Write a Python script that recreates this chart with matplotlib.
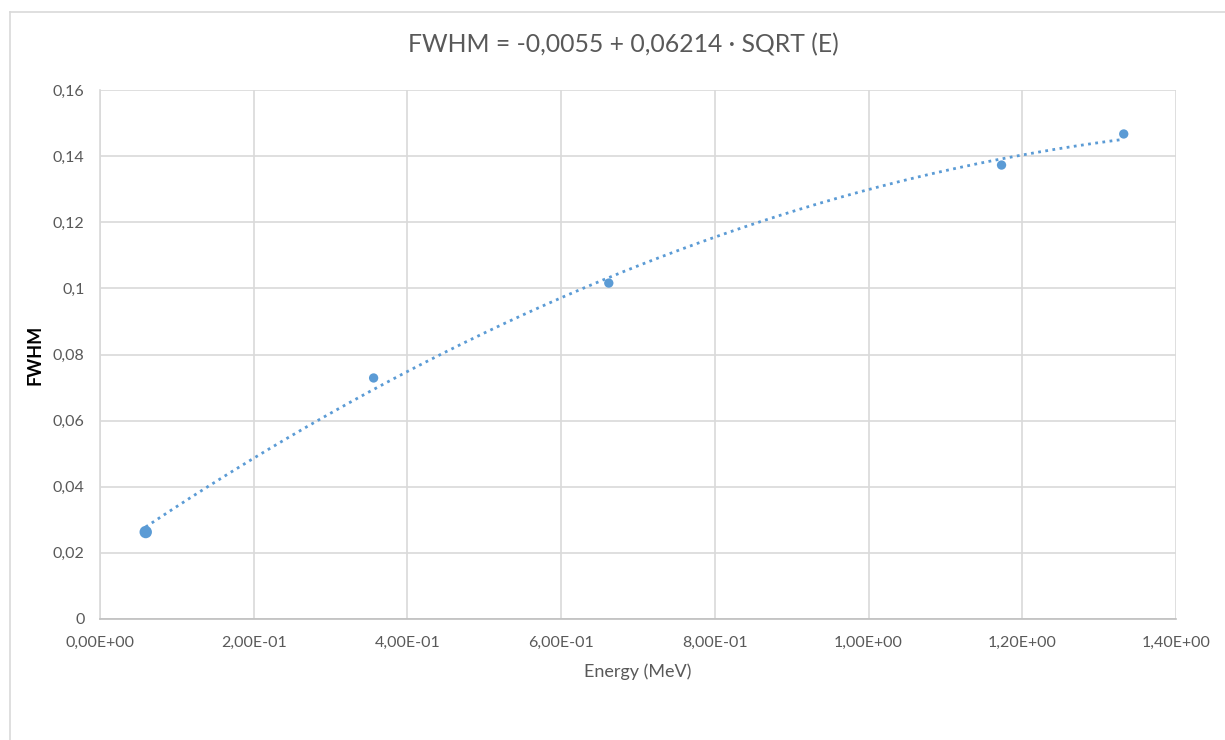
import numpy as np
import matplotlib
matplotlib.use("Agg")
import matplotlib.pyplot as plt
from matplotlib.ticker import FuncFormatter, MultipleLocator

energy = [0.0595, 0.356, 0.662, 1.173, 1.332]
fwhm = [0.0263, 0.0729, 0.1016, 0.1373, 0.1467]
title = "FWHM = -0,0055 + 0,06214 · SQRT (E)"

plt.rcParams['font.family'] = ['Lato', 'DejaVu Sans']

fig = plt.figure(figsize=(12.25, 7.4), dpi=100)
ax = fig.add_axes([100/1225, 1-619/740, 1076/1225, 529/740])

# chart border
fig.add_artist(plt.Line2D([10/1225, 1.0], [1-12/740, 1-12/740], color='#d9d9d9', lw=1.2, transform=fig.transFigure))
fig.add_artist(plt.Line2D([10/1225, 10/1225], [0, 1-12/740], color='#d9d9d9', lw=1.2, transform=fig.transFigure))

blue = '#5b9bd5'
# polynomial trendline (order 2) fitted to data
coef = np.polyfit(energy, fwhm, 2)
xs = np.linspace(min(energy), max(energy), 200)
ax.plot(xs, np.polyval(coef, xs), linestyle=(0, (1, 1.6)), color=blue, lw=2.0, zorder=2)
ax.scatter(energy, fwhm, s=[80, 45, 45, 45, 45], color=blue, zorder=3, linewidths=0)

ax.set_xlim(0, 1.4)
ax.set_ylim(0, 0.16)
ax.xaxis.set_major_locator(MultipleLocator(0.2))
ax.yaxis.set_major_locator(MultipleLocator(0.02))

def yfmt(v, p):
    s = ('%.2f' % v).rstrip('0').rstrip('.')
    return s.replace('.', ',')
def xfmt(v, p):
    return ('%.2E' % v).replace('.', ',')
ax.yaxis.set_major_formatter(FuncFormatter(yfmt))
ax.xaxis.set_major_formatter(FuncFormatter(xfmt))

ax.grid(True, color='#d9d9d9', lw=1.2)
ax.set_axisbelow(True)
for s in ['top', 'right']:
    ax.spines[s].set_visible(False)
ax.spines['left'].set_color('#d9d9d9')
ax.spines['bottom'].set_color('#bfbfbf')
ax.spines['left'].set_linewidth(1.2)
ax.spines['bottom'].set_linewidth(1.2)
ax.tick_params(axis='x', length=0, labelsize=11.5, colors='#595959', pad=12)
ax.tick_params(axis='y', length=0, labelsize=11.5, colors='#595959', pad=11)

ax.set_xlabel('Energy (MeV)', fontsize=13, color='#595959', labelpad=10)
ax.set_ylabel('FWHM', fontsize=13, color='#000000', fontweight='bold', labelpad=7)
fig.text(623/1225, 1-45/740, title, fontsize=17.8, color='#595959', ha='center', va='center')

fig.savefig('out.png', dpi=100)
